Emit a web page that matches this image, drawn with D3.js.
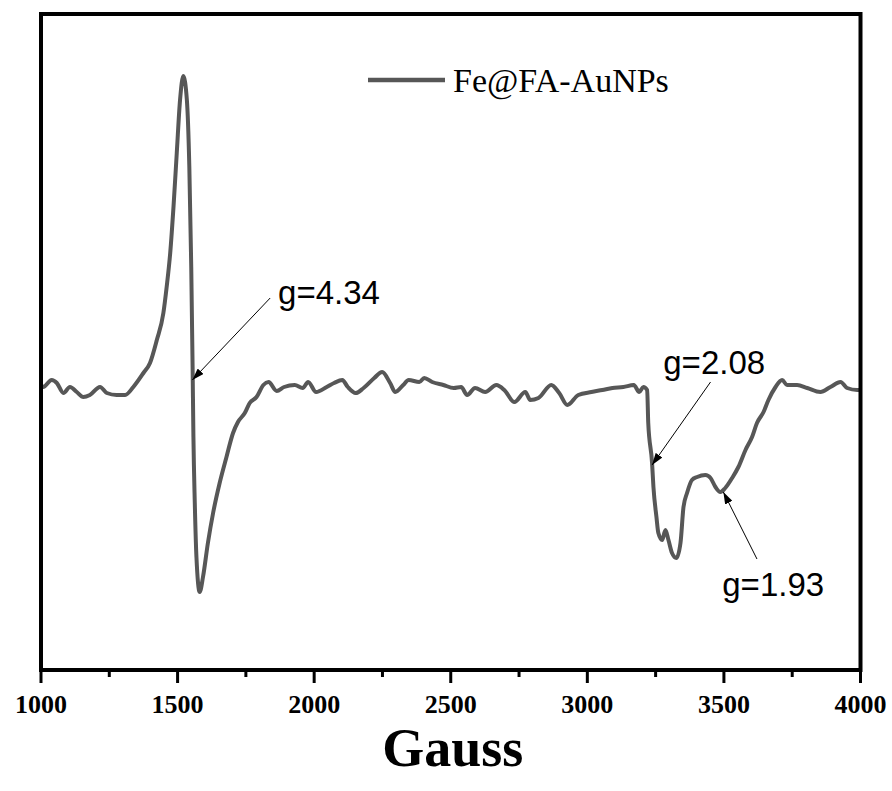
<!DOCTYPE html>
<html>
<head>
<meta charset="utf-8">
<script src="https://cdn.jsdelivr.net/npm/d3@7"></script>
<style>
  body { margin: 0; background: #fff; }
  svg { display: block; }
</style>
</head>
<body>
<div id="chart"></div>
<script>
// EPR spectrum, field in Gauss, intensity in arbitrary units (0 = baseline)
const field = [
  1000, 1008, 1039, 1058, 1082, 1106, 1131, 1155, 1179, 1216, 1241, 1277, 1308, 1338, 1375, 1399,
  1424, 1448, 1460, 1473, 1485, 1497, 1509, 1521, 1534, 1543, 1550, 1555, 1558, 1563, 1569, 1581,
  1593, 1611, 1630, 1654, 1679, 1703, 1721, 1746, 1764, 1789, 1814, 1833, 1863, 1890, 1929, 1958,
  1978, 2007, 2046, 2073, 2103, 2123, 2152, 2181, 2220, 2249, 2278, 2297, 2326, 2346, 2385, 2403,
  2432, 2473, 2511, 2538, 2560, 2589, 2626, 2667, 2696, 2733, 2773, 2791, 2821, 2868, 2897, 2927,
  2967, 3015, 3055, 3092, 3132, 3170, 3190, 3205, 3219, 3223, 3237, 3242, 3253, 3260, 3274, 3286,
  3297, 3310, 3326, 3341, 3352, 3365, 3383, 3402, 3432, 3451, 3469, 3487, 3505, 3530, 3553, 3579,
  3603, 3621, 3645, 3663, 3689, 3713, 3731, 3768, 3805, 3853, 3890, 3927, 3951, 3988, 4000
];
const intensity = [
  0, -2, 5, 2, -8, -2, -7, -12, -10, -2, -8, -10, -10, -2, 12, 22,
  45, 72, 98, 132, 178, 232, 285, 309, 285, 218, 118, 18, -52, -118, -172, -207,
  -192, -158, -128, -98, -72, -48, -37, -28, -18, -12, 0, 3, -6, -2, 0, -3,
  3, -7, -2, 2, 5, -2, -8, -3, 7, 13, 2, -7, 0, 5, 3, 7,
  3, 0, -3, -2, -10, -3, -7, 0, -5, -17, -7, -15, -13, 0, -8, -20,
  -10, -7, -5, -3, -2, 0, -7, -2, -5, -38, -78, -102, -132, -148, -155, -145,
  -155, -168, -173, -158, -122, -108, -95, -92, -90, -93, -102, -107, -103, -93, -82, -65,
  -52, -38, -27, -15, -2, 5, 0, 0, -3, -7, -2, 3, -3, -5, -5
];
const xTicks = [1000, 1500, 2000, 2500, 3000, 3500, 4000];
const xMinorTicks = [1250, 1750, 2250, 2750, 3250, 3750];
const seriesName = "Fe@FA-AuNPs";
const xTitle = "Gauss";

// g-factor annotations: arrow tip, arrow tail, label anchor (data units)
const gLabels = ["g=4.34", "g=2.08", "g=1.93"];
const gTip = [[1554, 5], [3237, -80], [3498, -107]];
const gTail = [[1839, 87], [3451, 3], [3621, -174]];
const gText = [[1868, 81], [3278, 11], [3494, -211]];

const width = 892, height = 791;
const margin = { top: 14, right: 31.5, bottom: 121, left: 41 };
const lineColor = "#575757";

const svg = d3.select("#chart").append("svg")
  .attr("width", width)
  .attr("height", height);

const x = d3.scaleLinear().domain([1000, 4000]).range([margin.left, width - margin.right]);
const y = d3.scaleLinear().domain([-285, 371]).range([height - margin.bottom, margin.top]);

const x0 = margin.left, x1 = width - margin.right;
const y0 = margin.top, y1 = height - margin.bottom;

// arrowhead
svg.append("defs").append("marker")
  .attr("id", "arrow")
  .attr("viewBox", "0 0 12 8")
  .attr("refX", 12).attr("refY", 4)
  .attr("markerWidth", 12).attr("markerHeight", 8)
  .attr("markerUnits", "userSpaceOnUse")
  .attr("orient", "auto")
  .append("path")
  .attr("d", "M0,0 L12,4 L0,8 Z")
  .attr("fill", "#000");

// spectrum
const pts = field.map((f, i) => [f, intensity[i]]);
const line = d3.line()
  .x(d => x(d[0]))
  .y(d => y(d[1]))
  .curve(d3.curveMonotoneX);

svg.append("path")
  .datum(pts)
  .attr("d", line)
  .attr("fill", "none")
  .attr("stroke", lineColor)
  .attr("stroke-width", 4)
  .attr("stroke-linejoin", "round");

// frame
svg.append("rect")
  .attr("x", x0).attr("y", y0)
  .attr("width", x1 - x0).attr("height", y1 - y0)
  .attr("fill", "none")
  .attr("stroke", "#000")
  .attr("stroke-width", 4);

// bottom axis
const axis = svg.append("g").attr("transform", `translate(0,${y1})`);
axis.selectAll(".major").data(xTicks).join("line")
  .attr("x1", d => x(d)).attr("x2", d => x(d))
  .attr("y1", 0).attr("y2", 13)
  .attr("stroke", "#000").attr("stroke-width", 3);
axis.selectAll(".minor").data(xMinorTicks).join("line")
  .attr("class", "minor")
  .attr("x1", d => x(d)).attr("x2", d => x(d))
  .attr("y1", 0).attr("y2", 7)
  .attr("stroke", "#000").attr("stroke-width", 3);
axis.selectAll("text").data(xTicks).join("text")
  .attr("x", d => x(d))
  .attr("y", 43)
  .attr("text-anchor", "middle")
  .attr("font-family", "'Liberation Serif', 'Times New Roman', serif")
  .attr("font-weight", "bold")
  .attr("font-size", 26)
  .text(d => d);

svg.append("text")
  .attr("x", (x0 + x1) / 2 + 2)
  .attr("y", 766)
  .attr("text-anchor", "middle")
  .attr("font-family", "'Liberation Serif', 'Times New Roman', serif")
  .attr("font-weight", "bold")
  .attr("font-size", 54)
  .text(xTitle);

// legend
svg.append("line")
  .attr("x1", 368).attr("x2", 445)
  .attr("y1", 80).attr("y2", 80)
  .attr("stroke", lineColor)
  .attr("stroke-width", 4.5);
svg.append("text")
  .attr("x", 453).attr("y", 92)
  .attr("font-family", "'Liberation Serif', 'Times New Roman', serif")
  .attr("font-size", 34)
  .text(seriesName);

// annotations
gLabels.forEach((lab, i) => {
  svg.append("line")
    .attr("x1", x(gTail[i][0])).attr("y1", y(gTail[i][1]))
    .attr("x2", x(gTip[i][0])).attr("y2", y(gTip[i][1]))
    .attr("stroke", "#000")
    .attr("stroke-width", 1)
    .attr("marker-end", "url(#arrow)");
  svg.append("text")
    .attr("x", x(gText[i][0])).attr("y", y(gText[i][1]))
    .attr("font-family", "'Liberation Sans', Arial, sans-serif")
    .attr("font-size", 33)
    .text(lab);
});
</script>
</body>
</html>
